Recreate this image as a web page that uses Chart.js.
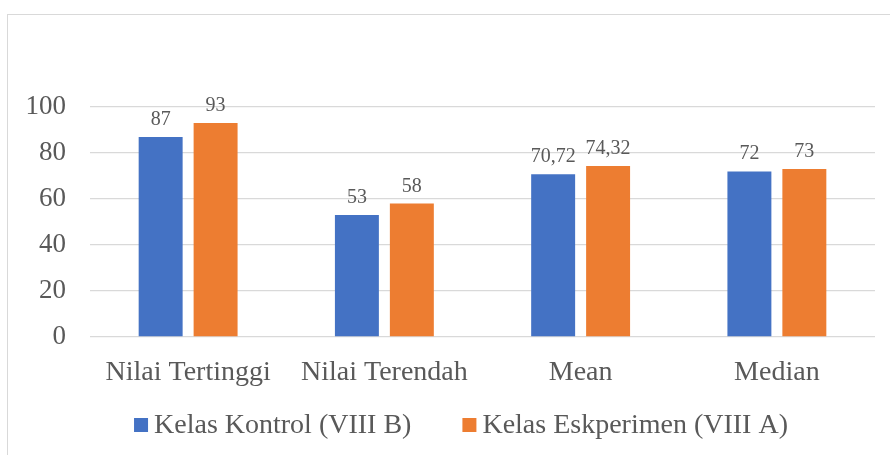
<!DOCTYPE html>
<html>
<head>
<meta charset="utf-8">
<script src="https://cdn.jsdelivr.net/npm/chart.js@4/dist/chart.umd.min.js"></script>
<style>
  html, body { margin: 0; padding: 0; background: #fff; overflow: hidden; }
  #frame {
    position: absolute; left: 7px; top: 14px;
    width: 1000px; height: 600px;
    border: 1px solid #d9d9d9;
  }
  #chart { position: absolute; left: 0; top: 0; }
  .warm { font-family: 'Liberation Serif'; position: absolute; left: -999px; }
</style>
</head>
<body>
<span class="warm">Kelas 0123</span>
<div id="frame"><canvas id="chart" width="882" height="440"></canvas></div>
<script>
  'use strict';

  var categories = ['Nilai Tertinggi', 'Nilai Terendah', 'Mean', 'Median'];
  var kontrolValues = [87, 53, 70.72, 72];
  var eksperimenValues = [93, 58, 74.32, 73];
  var seriesNames = ['Kelas Kontrol (VIII B)', 'Kelas Eskperimen (VIII A)'];
  var yTicks = [0, 20, 40, 60, 80, 100];

  var colors = {
    blue: '#4472C4',
    orange: '#ED7D31',
    grid: '#d9d9d9',
    text: '#595959'
  };
  var serif = '"Liberation Serif", "Times New Roman", Times, serif';

  // value labels above each bar, decimal comma like the source
  var valueLabels = {
    id: 'valueLabels',
    afterDatasetsDraw: function(chart) {
      var ctx = chart.ctx;
      ctx.save();
      ctx.font = '20px ' + serif;
      ctx.fillStyle = colors.text;
      ctx.textAlign = 'center';
      ctx.textBaseline = 'alphabetic';
      chart.data.datasets.forEach(function(ds, i) {
        chart.getDatasetMeta(i).data.forEach(function(bar, j) {
          var txt = String(ds.data[j]).replace('.', ',');
          ctx.fillText(txt, bar.x, bar.y - 12);
        });
      });
      ctx.restore();
    }
  };

  // office-style legend: small square, tight gap to text, wide gap between items
  var bottomLegend = {
    id: 'bottomLegend',
    afterDraw: function(chart) {
      var ctx = chart.ctx;
      var box = 14, textGap = 6, itemGap = 51;
      var centerX = 453, midY = 410;
      ctx.save();
      ctx.font = '28px ' + serif;
      var items = chart.data.datasets.map(function(ds) {
        return { text: ds.label, color: ds.backgroundColor, w: ctx.measureText(ds.label).width };
      });
      var total = items.reduce(function(s, it) { return s + box + textGap + it.w; }, 0) + itemGap * (items.length - 1);
      var x = centerX - total / 2;
      ctx.textBaseline = 'middle';
      ctx.textAlign = 'left';
      items.forEach(function(it) {
        ctx.fillStyle = it.color;
        ctx.fillRect(x, midY - box / 2, box, box);
        x += box + textGap;
        ctx.fillStyle = colors.text;
        ctx.fillText(it.text, x, midY + 1);
        x += it.w + itemGap;
      });
      ctx.restore();
    }
  };

  function draw() {
    new Chart(document.getElementById('chart'), {
      type: 'bar',
      data: {
        labels: categories,
        datasets: [{
          label: seriesNames[0],
          data: kontrolValues,
          backgroundColor: colors.blue
        }, {
          label: seriesNames[1],
          data: eksperimenValues,
          backgroundColor: colors.orange
        }]
      },
      options: {
        responsive: false,
        animation: false,
        categoryPercentage: 0.56,
        barPercentage: 0.8,
        layout: { padding: { left: 0, right: 15, top: 92, bottom: 0 } },
        scales: {
          x: {
            grid: { display: false },
            border: { display: false },
            ticks: { color: colors.text, font: { family: serif, size: 28 }, padding: 11 },
            afterFit: function(scale) { scale.height = 118; }
          },
          y: {
            min: 0,
            max: 100,
            afterBuildTicks: function(scale) {
              scale.ticks = yTicks.map(function(v) { return { value: v }; });
            },
            grid: { color: colors.grid, lineWidth: 1.3, drawTicks: false },
            border: { display: false },
            ticks: { color: colors.text, font: { family: serif, size: 27 }, padding: 24 },
            afterFit: function(scale) { scale.width = 82; }
          }
        },
        plugins: {
          legend: { display: false },
          tooltip: { enabled: false }
        }
      },
      plugins: [valueLabels, bottomLegend]
    });
  }

  if (document.fonts && document.fonts.load) {
    document.fonts.load('27px "Liberation Serif"').then(draw, draw);
  } else {
    draw();
  }
</script>
</body>
</html>
